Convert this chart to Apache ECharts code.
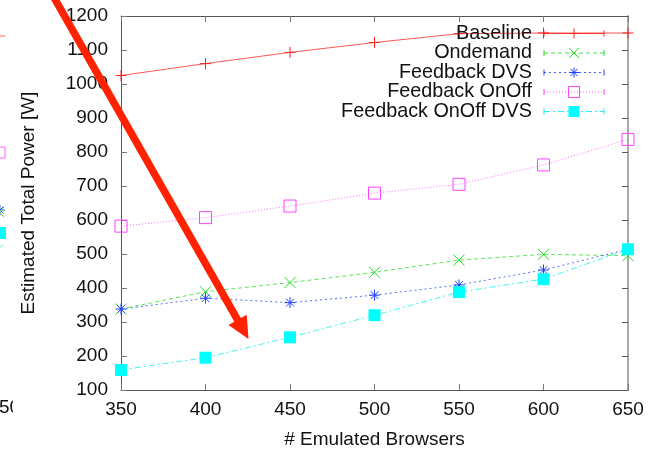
<!DOCTYPE html>
<html><head><meta charset="utf-8">
<script src="https://cdn.jsdelivr.net/npm/echarts@6/dist/echarts.min.js"></script>
<style>html,body{margin:0;padding:0;background:#fff}#c{width:660px;height:454px}</style>
</head><body><div id="c"></div><script>
const browsers = [350, 400, 450, 500, 550, 600, 650];
const seriesNames = ['Baseline', 'Ondemand', 'Feedback DVS', 'Feedback OnOff', 'Feedback OnOff DVS'];
const baseline = [1025, 1060, 1093, 1122, 1148, 1150, 1150];
const ondemand = [338, 389, 416, 446, 482, 499, 495];
const feedbackDVS = [338, 370, 357, 379, 409, 453, 514];
const feedbackOnOff = [582, 607, 641, 679, 705, 762, 837];
const feedbackOnOffDVS = [159, 195, 255, 320, 388, 426, 514];
const xAxisTitle = '# Emulated Browsers';
const yAxisTitle = 'Estimated Total Power [W]';

const FONT = "'Liberation Sans', Arial, sans-serif";
const colors = ['#ff2020', '#20e020', '#2040ff', '#ff40ff', '#00f0f0'];
const dashes = ['solid', [4, 3], [2, 3], [1, 2], [6, 3, 2, 3]];
const kinds = ['plus', 'cross', 'star', 'square', 'fsquare'];
const symbols = {
  plus: 'path://M0,5L10,5M5,0L5,10',
  cross: 'path://M0,0L10,10M10,0L0,10',
  star: 'path://M5,0L5,10M0,5L10,5M1.5,1.5L8.5,8.5M8.5,1.5L1.5,8.5',
  square: 'path://M0,0L10,0L10,10L0,10Z',
  fsquare: 'rect'
};
const sizes = [11, 11, 11, 12, 12];
const values = [baseline, ondemand, feedbackDVS, feedbackOnOff, feedbackOnOffDVS];

const series = seriesNames.map((name, i) => ({
  name, type: 'line',
  data: browsers.map((b, j) => [b, values[i][j]]),
  symbol: symbols[kinds[i]], symbolSize: sizes[i], symbolKeepAspect: false,
  showSymbol: true,
  lineStyle: { color: colors[i], width: 1, type: dashes[i], opacity: 0.75 },
  itemStyle: kinds[i] === 'fsquare'
    ? { color: '#00ffff', borderWidth: 0 }
    : { color: 'rgba(0,0,0,0)', borderColor: colors[i], borderWidth: 1 },
  emphasis: { disabled: true },
  z: 3 + i
}));

function marker(kind, cx, cy, c, s) {
  const h = s / 2;
  const L = (x1, y1, x2, y2) => ({ type: 'line', shape: { x1, y1, x2, y2 }, style: { stroke: c, lineWidth: 1 }, z: 10 });
  if (kind === 'plus') return [L(cx - h, cy, cx + h, cy), L(cx, cy - h, cx, cy + h)];
  if (kind === 'cross') return [L(cx - h, cy - h, cx + h, cy + h), L(cx + h, cy - h, cx - h, cy + h)];
  if (kind === 'star') { const d = h * 0.7; return [L(cx - h, cy, cx + h, cy), L(cx, cy - h, cx, cy + h), L(cx - d, cy - d, cx + d, cy + d), L(cx + d, cy - d, cx - d, cy + d)]; }
  if (kind === 'square') return [{ type: 'rect', shape: { x: cx - h, y: cy - h, width: s, height: s }, style: { fill: 'none', stroke: c, lineWidth: 1 }, z: 10 }];
  return [{ type: 'rect', shape: { x: cx - h, y: cy - h, width: s, height: s }, style: { fill: '#00ffff' }, z: 10 }];
}

const graphics = [];
// legend (built from series names)
seriesNames.forEach((name, i) => {
  const y = 33.5 + i * 19.5;
  graphics.push({ type: 'text', x: 532, y, style: { text: name, font: '19.8px ' + FONT, fill: '#111', textAlign: 'right', textVerticalAlign: 'middle' }, z: 10 });
  const lt = dashes[i] === 'solid' ? null : dashes[i];
  graphics.push({ type: 'line', shape: { x1: 544, y1: y, x2: 604, y2: y }, style: { stroke: colors[i], lineWidth: 1, lineDash: lt, opacity: 0.85 }, z: 10 });
  graphics.push({ type: 'line', shape: { x1: 544, y1: y - 3, x2: 544, y2: y + 3 }, style: { stroke: colors[i], lineWidth: 1 }, z: 10 });
  graphics.push({ type: 'line', shape: { x1: 604, y1: y - 3, x2: 604, y2: y + 3 }, style: { stroke: colors[i], lineWidth: 1 }, z: 10 });
  marker(kinds[i], 574, y, colors[i], i >= 3 ? 11 : 10).forEach(g => graphics.push(g));
});
// fragments of neighbouring chart at left edge
graphics.push({ type: 'line', shape: { x1: 0, y1: 36, x2: 5, y2: 36 }, style: { stroke: '#ff6060', lineWidth: 1 } });
graphics.push({ type: 'rect', shape: { x: -6, y: 147, width: 11, height: 11 }, style: { fill: 'none', stroke: '#ff60ff', lineWidth: 1 } });
marker('star', 0, 210, '#4060ff', 10).forEach(g => graphics.push(g));
marker('cross', -1, 212, '#40e040', 10).forEach(g => graphics.push(g));
graphics.push({ type: 'rect', shape: { x: -6, y: 227, width: 12, height: 12 }, style: { fill: '#00ffff' } });
graphics.push({ type: 'line', shape: { x1: 0, y1: 247, x2: 3, y2: 245 }, style: { stroke: '#60f0f0', lineWidth: 1 } });
graphics.push({ type: 'text', x: -1, y: 408, style: { text: '50', font: '19px ' + FONT, fill: '#111', textVerticalAlign: 'middle' } });
graphics.push({ type: 'rect', shape: { x: 13, y: 396, width: 10, height: 24 }, style: { fill: '#fff' }, z: 5 });
// red arrow annotation
(function () {
  const x0 = 52, y0 = -6, tx = 248.5, ty = 339;
  const dx = tx - x0, dy = ty - y0, len = Math.hypot(dx, dy);
  const ux = dx / len, uy = dy / len, px = -uy, py = ux;
  const hl = 22, hw = 10.5;
  const bx = tx - ux * hl, by = ty - uy * hl;
  graphics.push({ type: 'line', shape: { x1: x0, y1: y0, x2: bx + ux * 2, y2: by + uy * 2 }, style: { stroke: '#ff2200', lineWidth: 7.5 }, z: 50 });
  graphics.push({ type: 'polygon', shape: { points: [[tx, ty], [bx + px * hw, by + py * hw], [bx - px * hw, by - py * hw]] }, style: { fill: '#ff2200' }, z: 50 });
})();

const axisText = { fontSize: 19, fontFamily: FONT, color: '#111' };
const plain = v => String(v);
const chart = echarts.init(document.getElementById('c'), null, { renderer: 'canvas' });
chart.setOption({
  animation: false,
  backgroundColor: '#fff',
  grid: { left: 121, right: 32, top: 16, bottom: 64, containLabel: false },
  xAxis: [{
    type: 'value', min: 350, max: 650, interval: 50, position: 'bottom',
    name: xAxisTitle, nameLocation: 'middle', nameGap: 40, nameTextStyle: axisText,
    axisLine: { lineStyle: { color: '#555', width: 1 } },
    axisTick: { inside: true, length: 6, lineStyle: { color: '#777' } },
    axisLabel: Object.assign({ margin: 10, formatter: plain }, axisText),
    splitLine: { show: false }
  }, {
    type: 'value', min: 350, max: 650, interval: 50, position: 'top',
    axisLine: { lineStyle: { color: '#555', width: 1 } },
    axisTick: { inside: true, length: 6, lineStyle: { color: '#777' } },
    axisLabel: { show: false }, splitLine: { show: false }
  }],
  yAxis: [{
    type: 'value', min: 100, max: 1200, interval: 100, position: 'left',
    name: yAxisTitle, nameLocation: 'middle', nameGap: 83, nameTextStyle: axisText,
    axisLine: { show: true, lineStyle: { color: '#555', width: 1 } },
    axisTick: { show: true, inside: true, length: 6, lineStyle: { color: '#777' } },
    axisLabel: Object.assign({ margin: 13, formatter: plain }, axisText),
    splitLine: { show: false }
  }, {
    type: 'value', min: 100, max: 1200, interval: 100, position: 'right',
    axisLine: { show: true, lineStyle: { color: '#aaa', width: 2 } },
    axisTick: { show: true, inside: true, length: 6, lineStyle: { color: '#555' } },
    axisLabel: { show: false }, splitLine: { show: false }
  }],
  series,
  graphic: graphics
});
</script></body></html>
